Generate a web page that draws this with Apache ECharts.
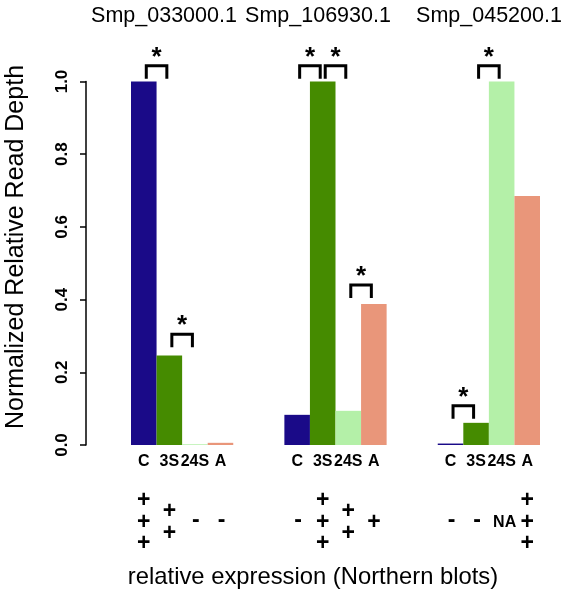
<!DOCTYPE html>
<html>
<head>
<meta charset="utf-8">
<script src="https://cdn.jsdelivr.net/npm/echarts@6/dist/echarts.min.js"></script>
<style>
html,body{margin:0;padding:0;background:#fff;}
#chart{width:569px;height:596px;}
</style>
</head>
<body>
<div id="chart"></div>
<script>
// ---- data ----
const genes = ['Smp_033000.1', 'Smp_106930.1', 'Smp_045200.1'];
const categories = ['C', '3S', '24S', 'A'];
const valuesGene1 = [1.0, 0.246, 0.002, 0.006];
const valuesGene2 = [0.083, 1.0, 0.094, 0.388];
const valuesGene3 = [0.004, 0.061, 1.0, 0.685];
const northernGene1 = ['+++', '++', '-', '-'];
const northernGene2 = ['-', '+++', '++', '+'];
const northernGene3 = ['-', '-', 'NA', '+++'];
// significance brackets: [from category, to category, bracket level]
const sigGene1 = [['C', '3S', 1.043], ['3S', '24S', 0.305]];
const sigGene2 = [['C', '3S', 1.043], ['3S', '24S', 1.043], ['24S', 'A', 0.44]];
const sigGene3 = [['C', '3S', 0.108], ['3S', '24S', 1.043]];
const yTicks = ['0.0', '0.2', '0.4', '0.6', '0.8', '1.0'];
const yTitle = 'Normalized Relative Read Depth';
const xTitle = 'relative expression (Northern blots)';

const colors = ['#1A0A88', '#458B00', '#B4F0A8', '#E9967A'];
const allValues = [valuesGene1, valuesGene2, valuesGene3];
const allNorthern = [northernGene1, northernGene2, northernGene3];
const allSig = [sigGene1, sigGene2, sigGene3];
const GAP = 2;

// build slots
const slotLabels = [];
const barData = [];
const northernData = [];
const northernText = [];
const sigData = [];
allValues.forEach((vals, g) => {
  if (g > 0) { for (let k = 0; k < GAP; k++) { slotLabels.push(''); barData.push('-'); } }
  const base = slotLabels.length;
  vals.forEach((v, i) => {
    slotLabels.push(categories[i]);
    barData.push({ value: v, itemStyle: { color: colors[i] } });
    northernData.push([base + i, 0]);
    northernText.push(allNorthern[g][i]);
  });
  allSig[g].forEach(s => {
    sigData.push([base + categories.indexOf(s[0]), s[2], base + categories.indexOf(s[1])]);
  });
});

const FONT = '"Liberation Sans", Arial, Helvetica, sans-serif';
const chart = echarts.init(document.getElementById('chart'), null, { renderer: 'canvas' });

chart.setOption({
  backgroundColor: '#fff',
  animation: false,
  grid: { left: 131, right: 29, top: 81.5, bottom: 151, containLabel: false },
  xAxis: {
    type: 'category',
    data: slotLabels,
    axisLine: { show: false },
    axisTick: { show: false },
    axisLabel: { interval: 0, color: '#000', fontWeight: 'bold', fontSize: 16, fontFamily: FONT, margin: 9 }
  },
  yAxis: {
    type: 'value', min: 0, max: 1, interval: 0.2,
    offset: 45,
    axisLine: { show: true, lineStyle: { color: '#000', width: 1.5 } },
    axisTick: { show: true, length: 6, lineStyle: { color: '#000', width: 1.5 } },
    splitLine: { show: false },
    axisLabel: {
      rotate: 90, color: '#000', fontWeight: 'bold', fontSize: 17, fontFamily: FONT, margin: 15,
      formatter: v => yTicks[Math.round(v / 0.2)]
    }
  },
  graphic: [
    { type: 'text', x: 164, y: 16, style: { text: genes[0], font: '21.5px ' + FONT, fill: '#000', align: 'center', verticalAlign: 'middle' } },
    { type: 'text', x: 318, y: 16, style: { text: genes[1], font: '21.5px ' + FONT, fill: '#000', align: 'center', verticalAlign: 'middle' } },
    { type: 'text', x: 489, y: 16, style: { text: genes[2], font: '21.5px ' + FONT, fill: '#000', align: 'center', verticalAlign: 'middle' } },
    { type: 'text', x: 16, y: 247, rotation: Math.PI / 2, style: { text: yTitle, font: '25px ' + FONT, fill: '#000', align: 'center', verticalAlign: 'middle' } },
    { type: 'text', x: 313, y: 577, style: { text: xTitle, font: '23.8px ' + FONT, fill: '#000', align: 'center', verticalAlign: 'middle' } }
  ],
  series: [
    {
      type: 'bar',
      data: barData,
      barCategoryGap: '0%',
      barWidth: '100%'
    },
    {
      type: 'custom',
      data: sigData,
      encode: { x: 0, y: 1 },
      clip: false,
      renderItem: function (params, api) {
        const p1 = api.coord([api.value(0), api.value(1)]);
        const p2 = api.coord([api.value(2), api.value(1)]);
        const leg = 13, inset = 2.5;
        const x1 = p1[0] + inset, x2 = p2[0] - inset;
        return {
          type: 'group',
          children: [
            { type: 'polyline', shape: { points: [[x1, p1[1] + leg], [x1, p1[1]], [x2, p2[1]], [x2, p2[1] + leg]] },
              style: { stroke: '#000', lineWidth: 3, fill: null, lineJoin: 'miter' } },
            { type: 'text', x: (x1 + x2) / 2, y: p1[1] - 8,
              style: { text: '*', font: 'bold 26px ' + FONT, fill: '#000', align: 'center', verticalAlign: 'middle' } }
          ]
        };
      }
    },
    {
      type: 'custom',
      data: northernData,
      encode: { x: 0, y: 1 },
      clip: false,
      renderItem: function (params, api) {
        const p = api.coord([api.value(0), 0]);
        const t = northernText[params.dataIndex];
        const children = [];
        const plusFont = 'bold 23px ' + FONT;
        if (t === 'NA') {
          children.push({ type: 'text', x: p[0] + 3, y: p[1] + 78, style: { text: 'NA', font: 'bold 16px ' + FONT, fill: '#000', align: 'center', verticalAlign: 'middle' } });
        } else if (t === '-') {
          children.push({ type: 'text', x: p[0] + 1, y: p[1] + 76, style: { text: '-', font: plusFont, fill: '#000', align: 'center', verticalAlign: 'middle' } });
        } else {
          const n = t.length;
          for (let k = 0; k < n; k++) {
            const dy = 77.5 + (k - (n - 1) / 2) * 21.5;
            children.push({ type: 'text', x: p[0], y: p[1] + dy, style: { text: '+', font: plusFont, fill: '#000', align: 'center', verticalAlign: 'middle' } });
          }
        }
        return { type: 'group', children: children };
      }
    }
  ]
});
</script>
</body>
</html>
